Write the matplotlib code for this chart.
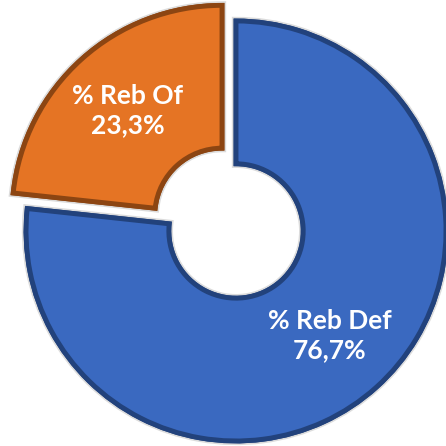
import matplotlib.pyplot as plt
import matplotlib.patheffects as pe

categories = ["% Reb Def", "% Reb Of"]
values = [76.7, 23.3]
colors = ["#3a69c0", "#e57424"]
edge_colors = ["#22427c", "#8c4512"]
explode = [0, 0.1]

labels = [f"{c}\n{v:.1f}%".replace(".", ",") for c, v in zip(categories, values)]

fig = plt.figure(figsize=(4.46, 4.46), dpi=100)
ax = fig.add_axes([0, 0, 1, 1])

wedges, texts = ax.pie(values, labels=labels, colors=colors, explode=explode,
                       startangle=90, counterclock=False, labeldistance=0.67,
                       wedgeprops=dict(width=0.68, linewidth=3.5, joinstyle="miter"),
                       textprops=dict(color="white", fontsize=19, fontweight="bold",
                                      family=["Lato", "DejaVu Sans"], linespacing=1.25,
                                      ha="center", va="center"))

for w, ec in zip(wedges, edge_colors):
    w.set_edgecolor(ec)
    w.set_path_effects([pe.withStroke(linewidth=6, foreground="#dcdcdc"), pe.Normal()])

for t in texts:
    t.set_horizontalalignment("center")

ax.set_xlim(-1.124, 1.0)
ax.set_ylim(-1.024, 1.1)
ax.set_aspect("equal")
ax.axis("off")

fig.savefig("out.png", dpi=100)
